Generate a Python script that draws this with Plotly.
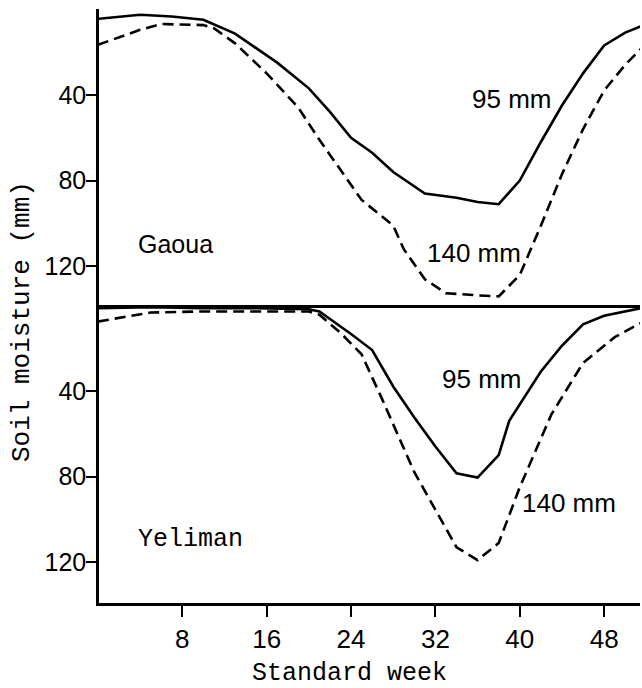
import plotly.graph_objects as go
from plotly.subplots import make_subplots

# Gaoua: weekly soil moisture deficit (mm) for two soil water holding capacities
gaoua_weeks_95 = [0, 4, 7, 10, 13, 17, 20, 22, 24, 26, 28, 31, 34, 36, 38, 40, 42, 44, 46, 48, 50, 52]
gaoua_95 = [4.6, 2.7, 3.5, 5, 11.5, 25, 37, 48, 60, 67, 76, 86, 88, 90, 91, 80, 62, 45, 30, 17, 11, 7]

gaoua_weeks_140 = [0, 4, 6, 10, 11, 13, 16, 19, 21, 25, 28, 29, 31, 33, 36, 38, 40, 42, 44, 46, 48, 50, 52]
gaoua_140 = [16.7, 9.7, 7, 7.5, 9, 16, 30, 46, 61, 89, 101, 112, 126, 132.5, 133.5, 134, 124, 101, 77, 56, 38, 26, 16]

# Yeliman
yeliman_weeks_95 = [0, 5, 10, 15, 20, 21, 24, 26, 28, 30, 32, 34, 36, 38, 39, 42, 44, 46, 48, 50, 52]
yeliman_95 = [1.5, 1, 1.5, 1.5, 2, 3, 13.5, 21, 38, 52.5, 66, 78.5, 80.5, 70, 54, 31, 19, 9, 5, 3, 1]

yeliman_weeks_140 = [0, 5, 10, 15, 20, 21, 23, 25, 27, 30, 34, 36, 38, 40, 43, 46, 49, 52]
yeliman_140 = [7.7, 3.5, 3, 3, 3, 4.5, 13, 23, 44.5, 78, 113, 119, 111, 85, 51, 27, 15, 7]

x_ticks = [8, 16, 24, 32, 40, 48]
y_ticks = [40, 80, 120]

MONO = "Liberation Mono, Courier New, monospace"
SANS = "Liberation Sans, Arial, sans-serif"
INK = "black"

fig = make_subplots(rows=2, cols=1, shared_xaxes=True, vertical_spacing=0)

solid = dict(color=INK, width=2.6)
dashed = dict(color=INK, width=2.6, dash="11px,6px")

fig.add_trace(go.Scatter(x=gaoua_weeks_95, y=gaoua_95, mode="lines", line=solid,
                         name="95 mm"), row=1, col=1)
fig.add_trace(go.Scatter(x=gaoua_weeks_140, y=gaoua_140, mode="lines", line=dashed,
                         name="140 mm"), row=1, col=1)
fig.add_trace(go.Scatter(x=yeliman_weeks_95, y=yeliman_95, mode="lines", line=solid,
                         name="95 mm"), row=2, col=1)
fig.add_trace(go.Scatter(x=yeliman_weeks_140, y=yeliman_140, mode="lines", line=dashed,
                         name="140 mm"), row=2, col=1)

split = (603 - 305) / 594

axis_common = dict(showgrid=False, zeroline=False, linecolor=INK, color=INK)
y_common = dict(showline=True, linewidth=2.5, tickvals=y_ticks, ticks="outside",
                ticklen=10, tickwidth=2, tickcolor=INK, ticklabelstandoff=-5,
                tickfont=dict(family=SANS, size=25, color=INK))

fig.update_layout(
    width=642, height=688,
    margin=dict(l=99, r=2, t=9, b=85),
    paper_bgcolor="white", plot_bgcolor="white",
    showlegend=False,
    xaxis=dict(**axis_common, range=[0.1, 51.4], showline=True, linewidth=3,
               ticks="", showticklabels=False, anchor="y"),
    xaxis2=dict(**axis_common, range=[0.1, 51.4], showline=True, linewidth=2.5,
                tickvals=x_ticks, ticks="outside", ticklen=11, tickwidth=2,
                tickcolor=INK, tickfont=dict(family=SANS, size=26, color=INK),
                anchor="y2"),
    yaxis=dict(**axis_common, **y_common, domain=[split, 1], range=[138, 0]),
    yaxis2=dict(**axis_common, **y_common, domain=[0, split], range=[139, 0]),
)

labels = [
    dict(x=3.7, y=109.5, xref="x", yref="y", text="Gaoua", xanchor="left",
         font=dict(family=SANS, size=25)),
    dict(x=3.7, y=109.3, xref="x2", yref="y2", text="Yeliman", xanchor="left",
         font=dict(family=MONO, size=25)),
    dict(x=39.2, y=41.9, xref="x", yref="y", text="95 mm", font=dict(family=SANS, size=26)),
    dict(x=35.7, y=113.7, xref="x", yref="y", text="140 mm", font=dict(family=SANS, size=26)),
    dict(x=36.4, y=34.5, xref="x2", yref="y2", text="95 mm", font=dict(family=SANS, size=26)),
    dict(x=44.7, y=92.4, xref="x2", yref="y2", text="140 mm", font=dict(family=SANS, size=26)),
    dict(x=(22 - 99) / 541, y=(603 - 322) / 594, xref="paper", yref="paper",
         text="Soil moisture (mm)", textangle=-90, font=dict(family=MONO, size=26)),
    dict(x=(349 - 99) / 541, y=(603 - 673) / 594, xref="paper", yref="paper",
         text="Standard week", font=dict(family=MONO, size=25)),
]
for a in labels:
    a.setdefault("showarrow", False)
    a.setdefault("xanchor", "center")
    a.setdefault("yanchor", "middle")
    a.setdefault("borderpad", 0)
    a["font"]["color"] = INK
    fig.add_annotation(**a)

fig.write_html("out.html")
